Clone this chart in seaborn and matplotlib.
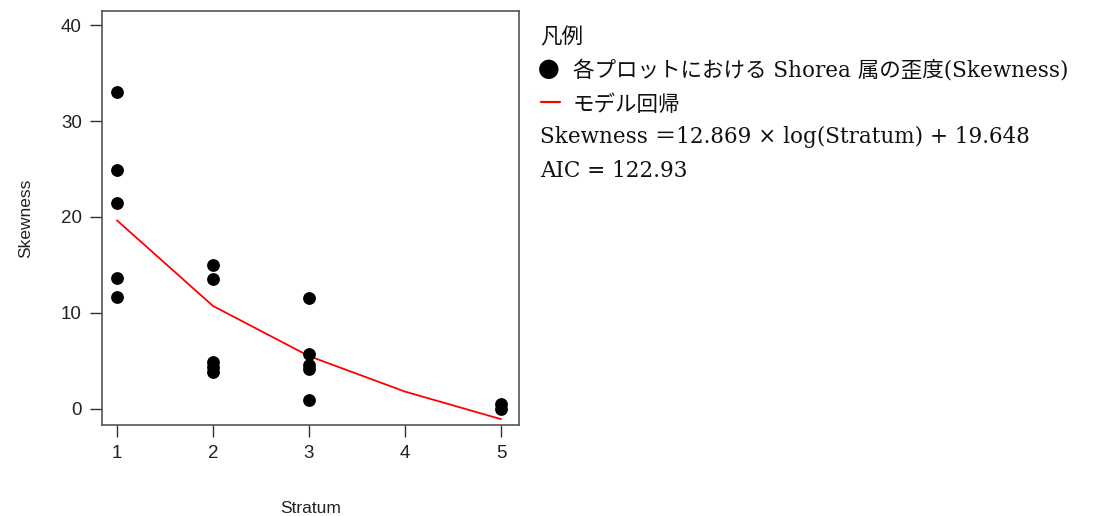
import matplotlib
matplotlib.use("Agg")
import matplotlib.pyplot as plt
import seaborn as sns
import pandas as pd

# data
stratum = [1, 1, 1, 1, 1, 2, 2, 2, 2, 2, 3, 3, 3, 3, 3, 5, 5]
skewness = [33.0, 24.9, 21.5, 13.6, 11.7,
            15.0, 13.5, 4.9, 4.4, 3.8,
            11.6, 5.7, 4.6, 4.2, 0.95,
            0.5, 0.0]
model_x = [1, 2, 3, 4, 5]
model_y = [19.648, 10.73, 5.51, 1.81, -1.06]
x_ticks = [1, 2, 3, 4, 5]
y_ticks = [0, 10, 20, 30, 40]

legend_title = "凡例"
legend_points = "各プロットにおける Shorea 属の歪度(Skewness)"
legend_line = "モデル回帰"
equation = "Skewness ＝12.869 × log(Stratum) + 19.648"
aic_text = "AIC = 122.93"

sns.set_theme(style="white")
plt.rcParams['font.family'] = ['Liberation Sans', 'DejaVu Sans']

pts = pd.DataFrame({"Stratum": stratum, "Skewness": skewness})
mdl = pd.DataFrame({"Stratum": model_x, "Skewness": model_y})

fig = plt.figure(figsize=(11.08, 5.16), dpi=100)
ax = fig.add_axes([102/1108, 1 - 425/516, (519-102)/1108, (425-11)/516])

sns.scatterplot(data=pts, x="Stratum", y="Skewness", ax=ax, color="black",
                s=85, edgecolor="black", linewidth=0, zorder=3)
sns.lineplot(data=mdl, x="Stratum", y="Skewness", ax=ax, color="#ff0000",
             linewidth=1.3, zorder=2)

ax.set_xlim(0.844, 5.1875)
ax.set_ylim(-1.67, 41.46)
ax.set_xticks(x_ticks)
ax.set_yticks(y_ticks)
ax.tick_params(axis="both", direction="out", length=8.5, width=1, color="#333333",
               labelsize=13.5, colors="#222222", bottom=True, left=True)
ax.tick_params(axis="x", pad=6)
ax.tick_params(axis="y", pad=6)
for sp in ax.spines.values():
    sp.set_visible(True)
    sp.set_color("#555555")
    sp.set_linewidth(1.2)
ax.set_xlabel("Stratum", fontsize=12.5, labelpad=28, color="#222222")
ax.set_ylabel("Skewness", fontsize=12.5, labelpad=20, color="#222222")

fam = ['DejaVu Serif', 'Noto Sans CJK JP', 'DejaVu Sans']
fs = 15.5
col = "#111111"
fig.text(540/1108, 1 - 37/516, legend_title, family=fam, fontsize=fs, va="center", ha="left", color=col)
fig.text(538/1108, 1 - 71/516, "●", family=['Noto Sans CJK JP', 'DejaVu Sans'], fontsize=fs, va="center", ha="left", color="black")
fig.text(573/1108, 1 - 71/516, legend_points, family=fam, fontsize=fs, va="center", ha="left", color=col)
fig.lines.append(plt.Line2D([541/1108, 560/1108], [1 - 102/516, 1 - 102/516],
                            transform=fig.transFigure, color="#ff0000", linewidth=1.6))
fig.text(573/1108, 1 - 105/516, legend_line, family=fam, fontsize=fs, va="center", ha="left", color=col)
fig.text(540/1108, 1 - 137/516, equation, family=fam, fontsize=fs, va="center", ha="left", color=col)
fig.text(540/1108, 1 - 171/516, aic_text, family=fam, fontsize=fs, va="center", ha="left", color=col)

fig.savefig("out.png", dpi=100)
